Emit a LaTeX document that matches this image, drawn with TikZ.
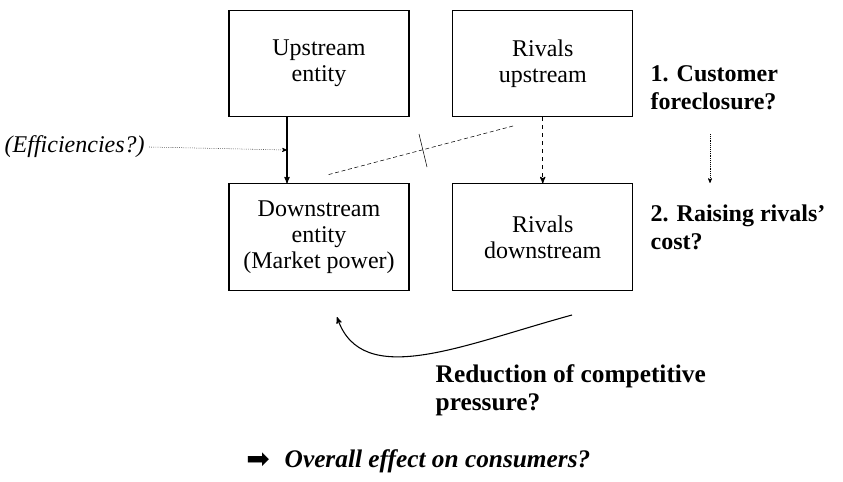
\documentclass[tikz,border=0pt]{standalone}
\usepackage{fontspec}
\setmainfont{Liberation Serif}
\newfontfamily\symfont{DejaVu Sans}
\usetikzlibrary{arrows}
\usetikzlibrary{positioning}

\begin{document}
\begin{tikzpicture}[x=0.75pt,y=-0.75pt]
        \tikzset{
          >=stealth',
          node distance=49.5pt and 32pt,
          entity/.style={
            draw,
            thick,
            align=center,
            minimum width=135pt,
            minimum height=80pt,
            font=\fontsize{18}{19.5}\selectfont,
          },
          question/.style={
            align=left,
            anchor=west,
            font=\fontsize{18}{21}\selectfont\bfseries,
          },
        }
        \useasboundingbox (0,0) rectangle (843,482);
        \node[entity] (up) at (319,63.5) {Upstream\\entity};
        \node[entity, right=of up] (rivup) {Rivals\\upstream};
        \node[entity, below=of up] (down) {Downstream\\entity\\(Market power)};
        \node[entity, below=of rivup] (rivdown) {Rivals\\downstream};

        \node[anchor=west, font=\fontsize{18}{20}\selectfont\itshape] (eff) at (0,147) {(Efficiencies?)};
        \node[question] (cust) at (646,88) {1. Customer\\foreclosure?};
        \node[question] (raise) at (646,227) {2. Raising rivals'\\cost?};
        \node[question, font=\fontsize{19}{21}\selectfont\bfseries] (red) at (431,390) {Reduction of competitive\\pressure?};
        \node[anchor=east, inner sep=0pt] (sym) at (270,461) {\symfont\fontsize{21}{21}\selectfont ➡};
        \node[anchor=west, font=\fontsize{19}{21}\selectfont\bfseries\itshape] (overall) at (280,461) {Overall effect on consumers?};

        \coordinate (join) at (287,150);
        \coordinate (fromrival) at (513,126);
        \coordinate (todown) at (327,175);
        \coordinate (cuttop) at (419,134);
        \coordinate (cutbot) at (427,167);
        \coordinate (cstart) at (710,134);
        \coordinate (cend) at (710,183);
        \coordinate (bstart) at (572,315);
        \coordinate (bend) at (337,317);

        \draw[thick, ->] (up.south -| join) -- (down.north -| join);
        \draw[densely dotted, ->] (eff.east) -- (join);
        \draw[thick, dashed, ->] (rivup) -- (rivdown);
        \draw[densely dashed] (fromrival) -- (todown);
        \draw (cuttop) -- (cutbot);
        \draw[densely dotted, ->] (cstart) -- (cend);
        \draw[thick, ->] (bstart) .. controls (462,345) and (362,390) .. (bend);
\end{tikzpicture}
\end{document}
